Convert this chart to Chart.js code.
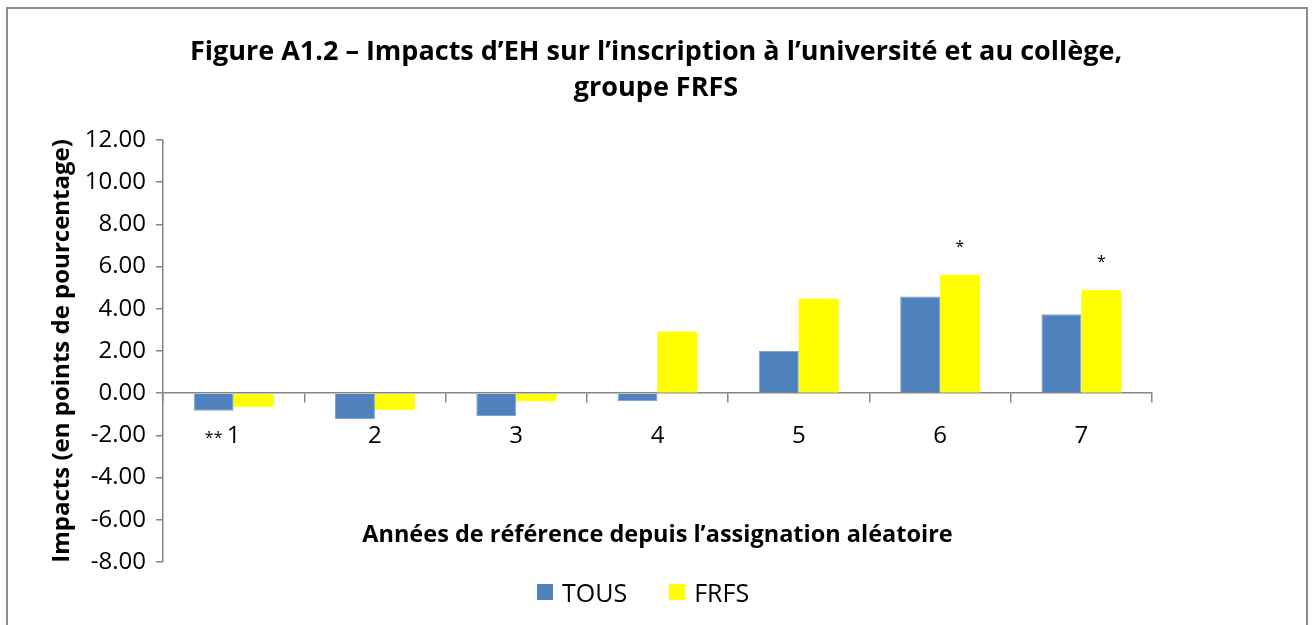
<!DOCTYPE html>
<html>
<head>
<meta charset="utf-8">
<script src="https://cdn.jsdelivr.net/npm/chart.js@4.4.1/dist/chart.umd.min.js"></script>
<style>
  html, body { margin: 0; padding: 0; background: #fff; overflow: hidden; }
  #wrap { position: relative; width: 1312px; height: 625px; }
  #frame { position: absolute; left: 6px; top: 7px; width: 1302px; height: 660px; border: 2px solid #8c8c8c; box-sizing: border-box; }
  canvas { position: absolute; left: 0; top: 0; }
  #legend { position: absolute; left: 537px; top: 575px; display: flex; font-family: "Open Sans", sans-serif; font-size: 25px; color: #000; }
  #legend .item { display: flex; align-items: center; margin-right: 42px; }
  #legend .box { width: 16px; height: 16px; margin-right: 9px; }
</style>
</head>
<body>
<div id="wrap">
  <div id="frame"></div>
  <canvas id="chart" width="1312" height="625"></canvas>
  <div id="legend"></div>
</div>
<script>
// Données
const years = ['1', '2', '3', '4', '5', '6', '7'];
const tous = [-0.84, -1.22, -1.08, -0.39, 2.00, 4.58, 3.74];
const frfs = [-0.65, -0.79, -0.39, 2.92, 4.47, 5.61, 4.89];
// marques de significativité
const tousSig = ['**', '', '', '', '', '', ''];
const frfsSig = ['', '', '', '', '', '*', '*'];
const yTicks = [-8, -6, -4, -2, 0, 2, 4, 6, 8, 10, 12];

const FONT = '"Open Sans", sans-serif';

// Étoiles au bout des barres
const sigPlugin = {
    id: 'sig',
    afterDatasetsDraw(chart) {
        const ctx = chart.ctx;
        ctx.save();
        ctx.font = '16px ' + FONT;
        ctx.fillStyle = '#000';
        ctx.textAlign = 'center';
        ctx.textBaseline = 'middle';
        [tousSig, frfsSig].forEach((marks, di) => {
            const values = chart.data.datasets[di].data;
            chart.getDatasetMeta(di).data.forEach((bar, i) => {
                if (!marks[i]) return;
                const y = values[i] >= 0 ? bar.y - 27 : bar.y + 28;
                ctx.fillText(marks[i], bar.x, y);
            });
        });
        ctx.restore();
    }
};

const ctx = document.getElementById('chart').getContext('2d');
const chart = new Chart(ctx, {
    type: 'bar',
    data: {
        labels: years,
        datasets: [
            {label: 'TOUS', data: tous, backgroundColor: '#4f81bd', borderColor: '#7ea3d0', borderWidth: 1},
            {label: 'FRFS', data: frfs, backgroundColor: '#ffff00', borderWidth: 0}
        ]
    },
    options: {
        responsive: false,
        animation: false,
        layout: {padding: {left: 0, right: 0, top: 0, bottom: 63}},
        datasets: {bar: {categoryPercentage: 0.565, barPercentage: 1}},
        plugins: {
            legend: {display: false},
            tooltip: {enabled: false},
            title: {
                display: true,
                text: ['Figure A1.2 \u2013 Impacts d\u2019EH sur l\u2019inscription \u00e0 l\u2019universit\u00e9 et au coll\u00e8ge,', 'groupe FRFS'],
                color: '#000',
                font: {family: FONT, size: 27, weight: 'bold', lineHeight: 1.33},
                padding: {top: 34, bottom: 34}
            }
        },
        scales: {
            x: {
                position: {y: 0},
                grid: {display: true, drawOnChartArea: false, tickLength: 9, color: '#868686', lineWidth: 1.5, offset: true},
                border: {color: '#868686', width: 1.5},
                ticks: {color: '#000', font: {family: FONT, size: 24}, padding: 20},
                title: {
                    display: true,
                    text: 'Ann\u00e9es de r\u00e9f\u00e9rence depuis l\u2019assignation al\u00e9atoire',
                    color: '#000',
                    font: {family: FONT, size: 23.5, weight: 'bold'},
                    padding: {top: 50, bottom: 0}
                }
            },
            y: {
                min: -8,
                max: 12,
                afterFit(scale) { scale.width = 163; },
                afterBuildTicks(scale) { scale.ticks = yTicks.map(v => ({value: v})); },
                grid: {drawOnChartArea: false, tickLength: 7, color: '#868686', lineWidth: 1.5},
                border: {color: '#868686', width: 1.5},
                ticks: {
                    color: '#000',
                    font: {family: FONT, size: 24},
                    padding: 10,
                    callback: v => v.toFixed(2)
                },
                title: {
                    display: true,
                    text: 'Impacts (en points de pourcentage)',
                    color: '#000',
                    font: {family: FONT, size: 24, weight: 'bold'},
                    padding: {top: 48, bottom: 0}
                }
            },
            // axe vide à droite pour réserver la marge
            yRight: {
                position: 'right',
                afterFit(scale) { scale.width = 160; },
                grid: {display: false},
                border: {display: false},
                ticks: {display: false}
            }
        }
    },
    plugins: [sigPlugin]
});

// Légende HTML construite à partir des séries
const legend = document.getElementById('legend');
chart.data.datasets.forEach(ds => {
    const item = document.createElement('div');
    item.className = 'item';
    const box = document.createElement('span');
    box.className = 'box';
    box.style.background = ds.backgroundColor;
    const txt = document.createElement('span');
    txt.textContent = ds.label;
    item.appendChild(box);
    item.appendChild(txt);
    legend.appendChild(item);
});
</script>
</body>
</html>
